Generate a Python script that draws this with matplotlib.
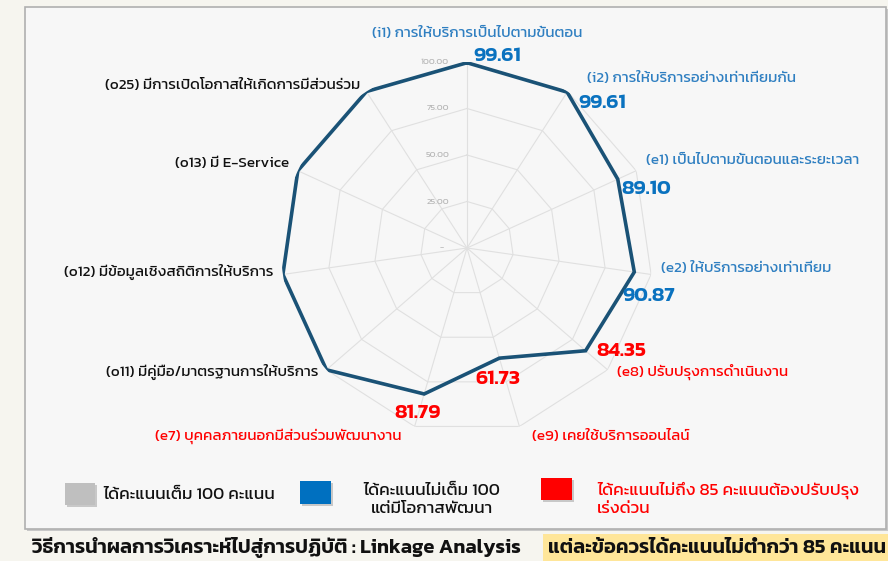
import numpy as np
import matplotlib
matplotlib.use("Agg")
import matplotlib.pyplot as plt
from matplotlib.patches import Rectangle

plt.rcParams['font.family'] = ['Kanit', 'DejaVu Sans']

# data (clockwise from top)
codes = ['i1', 'i2', 'e1', 'e2', 'e8', 'e9', 'e7', 'o11', 'o12', 'o13', 'o25']
labels = ['(i1) การให้บริการเป็นไปตามขั้นตอน',
          '(i2) การให้บริการอย่างเท่าเทียมกัน',
          '(e1) เป็นไปตามขั้นตอนและระยะเวลา',
          '(e2) ให้บริการอย่างเท่าเทียม',
          '(e8) ปรับปรุงการดำเนินงาน',
          '(e9) เคยใช้บริการออนไลน์',
          '(e7) บุคคลภายนอกมีส่วนร่วมพัฒนางาน',
          '(o11) มีคู่มือ/มาตรฐานการให้บริการ',
          '(o12) มีข้อมูลเชิงสถิติการให้บริการ',
          '(o13) มี E-Service',
          '(o25) มีการเปิดโอกาสให้เกิดการมีส่วนร่วม']
scores = [99.61, 99.61, 89.10, 90.87, 84.35, 61.73, 81.79, 100, 100, 100, 100]
grid_levels = [25, 50, 75, 100]
grid_labels = ['25.00', '50.00', '75.00', '100.00']
legend_texts = ['ได้คะแนนเต็ม 100 คะแนน',
                'ได้คะแนนไม่เต็ม 100\nแต่มีโอกาสพัฒนา',
                'ได้คะแนนไม่ถึง 85 คะแนนต้องปรับปรุง\nเร่งด่วน']
footer_left = 'วิธีการนำผลการวิเคราะห์ไปสู่การปฏิบัติ : Linkage Analysis'
footer_right = 'แต่ละข้อควรได้คะแนนไม่ต่ำกว่า 85 คะแนน'

W, H = 888, 561
fig = plt.figure(figsize=(W / 100, H / 100), dpi=100, facecolor='#f6f5ef')

# panel
fig.patches.append(Rectangle((27 / W, 1 - 531 / H), 861 / W, 522 / H, transform=fig.transFigure,
                             facecolor='#c8c8c8', edgecolor='none', zorder=-2))
fig.patches.append(Rectangle((25 / W, 1 - 529 / H), 861 / W, 522 / H, transform=fig.transFigure,
                             facecolor='#f7f7f7', edgecolor='#b0b0b0', lw=1.2, zorder=-1))

# radar axes: centre (467, 248) px, radius 186 px
cx, cy, R = 467, 248, 186
ax = fig.add_axes([(cx - R) / W, 1 - (cy + R) / H, 2 * R / W, 2 * R / H], projection='polar')
ax.set_zorder(5)
ax.set_theta_zero_location('N')
ax.set_theta_direction(-1)
ax.set_ylim(0, 100)
ax.axis('off')

n = len(codes)
theta = np.linspace(0, 2 * np.pi, n, endpoint=False)
theta_c = np.append(theta, theta[0])

grid_col = '#e0e0e0'
for lv in grid_levels:
    ax.plot(theta_c, [lv] * (n + 1), color=grid_col, lw=0.8, zorder=1)
for t in theta:
    ax.plot([t, t], [0, 100], color=grid_col, lw=0.8, zorder=1)
for lv, lb in zip(grid_levels, grid_labels):
    ax.annotate(lb, (0, lv), xytext=(-18, 0), textcoords='offset pixels',
                ha='right', va='center', fontsize=6.5, color='#b8b8b8')
ax.annotate('-', (0, 0), xytext=(-25, 0), textcoords='offset pixels',
            ha='center', va='center', fontsize=6.5, color='#b8b8b8')

sc = np.array(scores)
ax.plot(theta_c, np.append(sc, sc[0]), color='#1a5276', lw=2.6, zorder=3,
        solid_joinstyle='miter')

blue_lab = '#2f7fc1'
blue_val = '#0a72bf'
red = '#ff0000'
# per point: (label offset, label ha, value offset, value ha)
layout = {
    'i1': ((10, 29), 'center', (30, 7), 'center'),
    'i2': ((20, 14), 'left', (11, -11), 'left'),
    'e1': ((28, 19), 'left', (4, -10), 'left'),
    'e2': ((27, 4), 'left', (-12, -24), 'left'),
    'e8': ((31, -21), 'left', (11, 0), 'left'),
    'e9': ((33, -78), 'left', (-1, -21), 'center'),
    'e7': ((-23, -42), 'right', (-7, -19), 'center'),
    'o11': ((-8, -2), 'right', None, None),
    'o12': ((-10, 3), 'right', None, None),
    'o13': ((-9, 7), 'right', None, None),
    'o25': ((-6, 6), 'right', None, None),
}
for t, c, lab, v in zip(theta, codes, labels, scores):
    loff, lha, voff, vha = layout[c]
    if v >= 100:
        lcol = '#111111'
    elif v < 85:
        lcol = red
    else:
        lcol = blue_lab
    vcol = red if v < 85 else blue_val
    ax.annotate(lab, (t, v), xytext=loff, textcoords='offset pixels', ha=lha, va='center',
                fontsize=11, color=lcol, annotation_clip=False)
    if voff is not None:
        ax.annotate('%.2f' % v, (t, v), xytext=voff, textcoords='offset pixels', ha=vha,
                    va='center', fontsize=15, fontweight='semibold', color=vcol,
                    annotation_clip=False)

# legend
def box(x0, y0, x1, y1, col):
    fig.patches.append(Rectangle(((x0 + 2) / W, 1 - (y1 + 2) / H), (x1 - x0) / W, (y1 - y0) / H,
                                 transform=fig.transFigure, facecolor='#9a9a9a', alpha=0.5,
                                 edgecolor='none', zorder=1))
    fig.patches.append(Rectangle((x0 / W, 1 - y1 / H), (x1 - x0) / W, (y1 - y0) / H,
                                 transform=fig.transFigure, facecolor=col, edgecolor='none',
                                 zorder=2))

box(65, 483, 95, 505, '#bfbfbf')
box(300, 481, 331, 504, '#0070c0')
box(541, 478, 572, 500, '#ff0000')
fig.text(103 / W, 1 - 495 / H, legend_texts[0], fontsize=12.3, color='#111111', va='center')
fig.text(432 / W, 1 - 500 / H, legend_texts[1], fontsize=12.3, color='#111111', va='center',
         ha='center', linespacing=1.3)
fig.text(597 / W, 1 - 499 / H, legend_texts[2], fontsize=12.3, color=red, va='center',
         linespacing=1.3)

# footer
fig.patches.append(Rectangle((543 / W, 0), (W - 543) / W, 27 / H, transform=fig.transFigure,
                             facecolor='#ffe699', edgecolor='none', zorder=0))
fig.text(32 / W, 1 - 548 / H, footer_left, fontsize=14.5, fontweight='semibold', color='#111111',
         va='center')
fig.text(548 / W, 1 - 548 / H, footer_right, fontsize=14.5, fontweight='semibold',
         color='#111111', va='center')

fig.savefig('out.png', dpi=100, facecolor=fig.get_facecolor())
